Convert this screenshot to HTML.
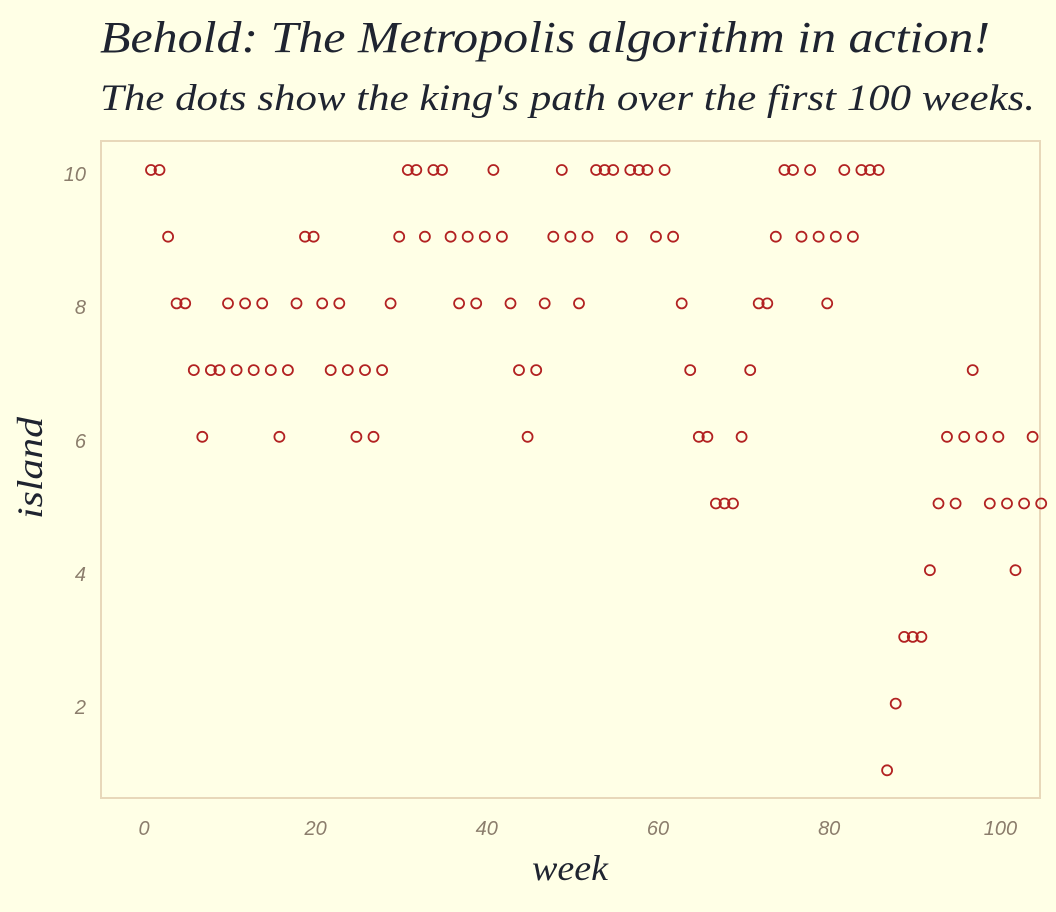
<!DOCTYPE html>
<html>
<head>
<meta charset="utf-8">
<style>
html,body{margin:0;padding:0;background:#FFFFE6;}
svg{display:block;}
.tt{font-family:"Liberation Serif",serif;font-style:italic;fill:#1F2430;}
.tk{font-family:"Liberation Sans",sans-serif;font-style:italic;fill:#8B7D6C;font-size:20px;}
</style>
</head>
<body>
<svg width="1056" height="912" viewBox="0 0 1056 912" xmlns="http://www.w3.org/2000/svg">
<defs>
<marker id="m" markerWidth="14" markerHeight="14" refX="7" refY="7" markerUnits="userSpaceOnUse">
<circle cx="7" cy="7" r="5" fill="none" stroke="#B22222" stroke-width="1.8"/>
</marker>
</defs>
<rect x="0" y="0" width="1056" height="912" fill="#FFFFE6"/>
<text class="tt" x="100" y="52" font-size="44" textLength="890" lengthAdjust="spacingAndGlyphs">Behold: The Metropolis algorithm in action!</text>
<text class="tt" x="100" y="110" font-size="37" textLength="935" lengthAdjust="spacingAndGlyphs">The dots show the king's path over the first 100 weeks.</text>
<rect x="101" y="141" width="939" height="657" fill="none" stroke="#E8D8BA" stroke-width="2"/>
<g class="tk" text-anchor="end">
<text x="86" y="181">10</text>
<text x="86" y="314">8</text>
<text x="86" y="448">6</text>
<text x="86" y="581">4</text>
<text x="86" y="714">2</text>
</g>
<g class="tk" text-anchor="middle">
<text x="144" y="835">0</text>
<text x="315.6" y="835">20</text>
<text x="486.8" y="835">40</text>
<text x="658" y="835">60</text>
<text x="829.2" y="835">80</text>
<text x="1000.4" y="835">100</text>
</g>
<text class="tt" x="570" y="880" font-size="36" text-anchor="middle" textLength="76" lengthAdjust="spacingAndGlyphs">week</text>
<text class="tt" transform="translate(42,468) rotate(-90)" font-size="36" text-anchor="middle" textLength="102" lengthAdjust="spacingAndGlyphs">island</text>
<polyline fill="none" stroke="none" marker-start="url(#m)" marker-mid="url(#m)" marker-end="url(#m)"
points="151,170 159.5,170 168.1,236.7 176.6,303.4 185.2,303.4 193.8,370.1 202.3,436.8 210.9,370.1 219.4,370.1 228,303.4 236.6,370.1 245.1,303.4 253.7,370.1 262.2,303.4 270.8,370.1 279.4,436.8 287.9,370.1 296.5,303.4 305,236.7 313.6,236.7 322.2,303.4 330.7,370.1 339.3,303.4 347.8,370.1 356.4,436.8 365,370.1 373.5,436.8 382.1,370.1 390.6,303.4 399.2,236.7 407.8,170 416.3,170 424.9,236.7 433.4,170 442,170 450.6,236.7 459.1,303.4 467.7,236.7 476.2,303.4 484.8,236.7 493.4,170 501.9,236.7 510.5,303.4 519,370.1 527.6,436.8 536.2,370.1 544.7,303.4 553.3,236.7 561.8,170 570.4,236.7 579,303.4 587.5,236.7 596.1,170 604.6,170 613.2,170 621.8,236.7 630.3,170 638.9,170 647.4,170 656,236.7 664.6,170 673.1,236.7 681.7,303.4 690.2,370.1 698.8,436.8 707.4,436.8 715.9,503.5 724.5,503.5 733,503.5 741.6,436.8 750.2,370.1 758.7,303.4 767.3,303.4 775.8,236.7 784.4,170 793,170 801.5,236.7 810.1,170 818.6,236.7 827.2,303.4 835.8,236.7 844.3,170 852.9,236.7 861.4,170 870,170 878.6,170 887.1,770.3 895.7,703.6 904.2,636.9 912.8,636.9 921.4,636.9 929.9,570.2 938.5,503.5 947,436.8 955.6,503.5 964.2,436.8 972.7,370.1 981.3,436.8 989.8,503.5 998.4,436.8 1007,503.5 1015.5,570.2 1024.1,503.5 1032.6,436.8 1041.2,503.5"/>
</svg>
</body>
</html>
